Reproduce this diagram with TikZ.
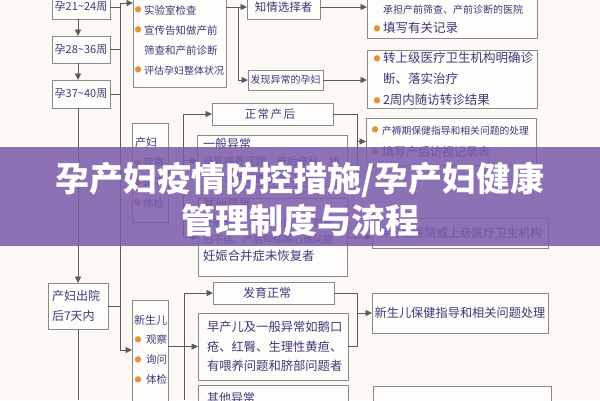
\documentclass[tikz,border=0pt]{standalone}
\usepackage{fontspec}
\setmainfont{Noto Sans CJK SC}
\usetikzlibrary{arrows.meta}
\definecolor{bg}{HTML}{FCF8F6}
\definecolor{boxf}{HTML}{FFFDFC}
\definecolor{txt}{HTML}{3A3A78}
\definecolor{boxc}{HTML}{8A8A8A}
\definecolor{linec}{HTML}{5A5A5A}
\definecolor{bulc}{HTML}{E0953A}
\definecolor{band}{HTML}{7A5AAA}
\newcommand{\fsz}[2]{\fontsize{#1}{#2}\selectfont}
\newcommand{\bul}[1][3.5pt]{\makebox[5pt][c]{\raisebox{1.3pt}{\color{bulc}\fontsize{7}{7}\selectfont ●}}\kern#1\relax}
\begin{document}
\begin{tikzpicture}[x=1pt,y=-1pt,
  box/.style={draw=boxc, fill=boxf, line width=0.8pt, inner sep=0pt, outer sep=0pt, text=txt},
  mbox/.style={box, align=left},
  conn/.style={draw=linec, line width=0.8pt},
  arr/.style={conn, -{Triangle[length=6.5pt,width=6pt]}}]
\fill[bg] (0,0) rectangle (600,400);
\useasboundingbox (0,0) rectangle (600,400);

% left column
\node[box, minimum width=58pt, minimum height=24pt, font=\fsz{11}{13}] (L1) at (81,7) {孕21\textasciitilde 24周};
\node[box, minimum width=58pt, minimum height=27pt, font=\fsz{11}{13}] (L2) at (81,49.5) {孕28\textasciitilde 36周};
\node[box, minimum width=58pt, minimum height=28pt, font=\fsz{11}{13}] (L3) at (81,94) {孕37\textasciitilde 40周};
\node[mbox, minimum width=60pt, minimum height=46pt, text width=52pt, inner xsep=4pt, font=\fsz{12}{20}] (L4) at (78,306) {产妇出院\\ 后7天内};

% prenatal part
\node[mbox, minimum width=93pt, minimum height=94pt, text width=88pt, inner xsep=2.5pt, font=\fsz{10.5}{20}] (A1) at (179.5,40) {\bul 实验室检查\\ \bul 宣传告知做产前\\ \hspace*{8.5pt}筛查和产前诊断\\ \fsz{10}{20}\bul 评估孕妇整体状况};
\node[box, minimum width=73pt, minimum height=24pt, font=\fsz{11.5}{13}] (A2) at (283.5,7) {知情选择者};
\node[box, minimum width=75pt, minimum height=20pt, font=\fsz{10}{12}] (A3) at (285.5,80) {发现异常的孕妇};
\node[mbox, minimum width=170pt, minimum height=47.5pt, text width=155pt, inner xsep=7.5pt, font=\fsz{10}{19}] (A4) at (452,14.25) {\mbox{}\\ \hspace*{8.5pt}承担产前筛查、产前诊断的医院\\ \fsz{12.5}{19}\bul 填写有关记录};
\node[mbox, minimum width=170pt, minimum height=58pt, text width=155pt, inner xsep=7.5pt, font=\fsz{12.5}{21}] (A5) at (452,79) {\bul 转上级医疗卫生机构明确诊\\ \hspace*{8.5pt}断、落实治疗\\ \bul 2周内随访转诊结果};

% postnatal mother
\node[mbox, minimum width=36pt, minimum height=99pt, text width=30pt, inner xsep=3pt, font=\fsz{11}{20.3}] (B0) at (150,172.5) {产妇\\ \fsz{10.5}{20.3}\bul[3pt]观察\\ \bul[3pt]询问\\ \bul[3pt]体检};
\node[box, minimum width=121pt, minimum height=22pt, font=\fsz{11.5}{13}] (B1) at (272.5,114) {正\hspace{1.5pt}常\hspace{1.5pt}产\hspace{1.5pt}后\hspace*{5pt}};
\node[mbox, minimum width=150pt, minimum height=51.3pt, text width=138pt, inner xsep=6pt, font=\fsz{12}{17}] (B2) at (272,160.6) {一般异常\\ \fsz{10.5}{17}母乳喂养问题、产后便秘、痔\\ 疮、会阴或腹部伤口问题};
\node[mbox, minimum width=149pt, minimum height=78pt, text width=139pt, inner xsep=5pt, font=\fsz{12}{17}] (B3) at (272.5,237) {其他异常\\ \fsz{10}{17}产褥感染、产后出血、子宫复\\ 旧不佳、产后抑郁等心理问题\\ \fsz{12.4}{17}妊娠合并症未恢复者\\[-3.7pt]\mbox{}};
\node[mbox, minimum width=170pt, minimum height=47pt, text width=157pt, inner xsep=6.5pt, font=\fsz{9.8}{22}] (B4) at (451,141.5) {\bul[4.5pt]产褥期保健指导和相关问题的处理\\ \fsz{12}{22}\bul[4.5pt]填写产后访视记录表};
\node[box, minimum width=176pt, minimum height=30pt, font=\fsz{11.7}{13}] (B5) at (460,233) {转分娩医院或上级医疗卫生机构};

% newborn
\node[mbox, minimum width=36pt, minimum height=118pt, text width=32pt, inner xsep=2pt, font=\fsz{11}{19.7}] (C0) at (150,359) {新生儿\\ \fsz{10.5}{19.7}\hspace*{1.5pt}\bul[5.5pt]观察\\ \hspace*{1.5pt}\bul[5.5pt]询问\\ \hspace*{1.5pt}\bul[5.5pt]体检\\ \mbox{}};
\node[box, minimum width=121pt, minimum height=22pt, font=\fsz{12}{14}] (C1) at (273.5,293) {发育正常\hspace*{13pt}};
\node[mbox, minimum width=150pt, minimum height=67pt, text width=132pt, inner xsep=9pt, font=\fsz{12.3}{19.5}] (C2) at (273,346.5) {早产儿及一般异常如鹅口\\ 疮、红臀、生理性黄疸、\\ 有喂养问题和脐部问题者};
\node[box, minimum width=150pt, minimum height=26pt, text width=132pt, inner xsep=9pt, align=left, font=\fsz{12}{14}] (C3) at (273,398) {其他异常};
\node[box, minimum width=176pt, minimum height=40pt, font=\fsz{12.2}{14}] (C4) at (460,313) {新生儿保健指导和相关问题处理};
\node[box, minimum width=178pt, minimum height=34pt] (C5) at (462,403) {};

% helper coordinates
\coordinate (v1) at (120,0);
\coordinate (v2) at (183,0);
\coordinate (v3) at (238,0);
\coordinate (v4) at (357.5,0);
\coordinate (v5) at (184,0);
\coordinate (bot) at (78,400);
\coordinate (vbot) at (184,400);
\coordinate (a1in) at (120,3);
\coordinate (c0in) at ([yshift=9pt]C0.west);
\coordinate (b2out) at ([yshift=-14pt]B2.east);

% left column connectors
\draw[arr] (L1.south -| L4.north) -- (L2.north -| L4.north);
\draw[arr] (L2.south -| L4.north) -- (L3.north -| L4.north);
\draw[arr] (L3.south -| L4.north) -- (L4.north);
\draw[conn] (L4.south) -- (bot);
\draw[conn] (L1.east) -- (L1.east -| v1);
\draw[conn] (L2.east) -- (L2.east -| v1);
\draw[conn] (L3.east) -- (L3.east -| v1);
\draw[conn] (L4.east) -- (L4.east -| v1);
\draw[conn] (a1in) -- (v1 |- c0in);
\draw[arr] (a1in) -- (a1in -| A1.west);
\draw[arr] (v1 |- B0.west) -- (B0.west);
\draw[arr] (v1 |- c0in) -- (c0in);

% prenatal connectors
\draw[arr] (A1.east |- A2.west) -- (A2.west);
\draw[conn] (v3 |- A2.west) -- (v3 |- A3.west);
\draw[arr] (v3 |- A3.west) -- (A3.west);
\draw[arr] (A2.east) -- (A2.east -| A4.west);
\draw[arr] (A3.east) -- (A3.east -| A5.west);

% mother connectors
\draw[conn] (B0.east) -- (B0.east -| v2);
\draw[conn] (v2 |- B1.west) -- (v2 |- B3.west);
\draw[arr] (v2 |- B1.west) -- (B1.west);
\draw[arr] (v2 |- B2.west) -- (B2.west);
\draw[arr] (v2 |- B3.west) -- (B3.west);
\draw[conn] (B1.east) -- (B1.east -| v4) -- (v4 |- b2out) -- (b2out);
\draw[arr] (v4 |- B4.west) -- (B4.west);
\draw[arr] (B3.east) -- (B3.east -| B5.west);

% newborn connectors
\draw[arr] (C0.east |- C2.west) -- (C2.west);
\draw[conn] (v5 |- C1.west) -- (vbot);
\draw[arr] (v5 |- C1.west) -- (C1.west);
\draw[conn] (C1.east) -- (C1.east -| v4) -- (v4 |- C2.east) -- (C2.east);
\draw[arr] (v4 |- C4.west) -- (C4.west);

% title band
\fill[band, opacity=0.85] (0,147) rectangle (600,246);
\node[text=white, inner sep=0pt, font=\fsz{34}{40}\bfseries] (T1) at (300,180) {孕产妇疫情防控措施/孕产妇健康};
\node[text=white, inner sep=0pt, font=\fsz{34}{40}\bfseries] (T2) at (300,220) {管理制度与流程};
\end{tikzpicture}
\end{document}
